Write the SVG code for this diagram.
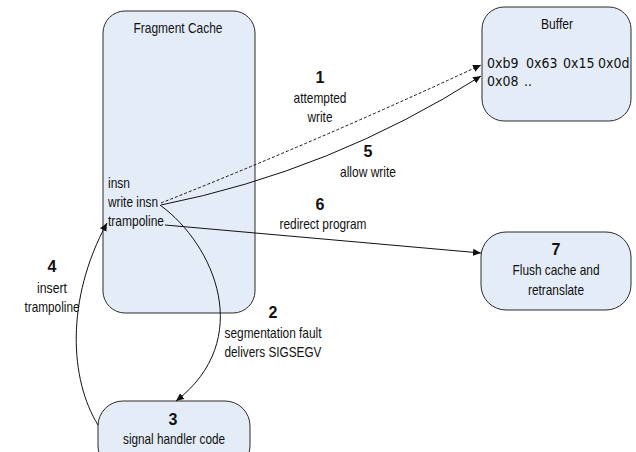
<svg xmlns="http://www.w3.org/2000/svg" width="636" height="452" viewBox="0 0 636 452">
<style>
.box{fill:#e4ecf7;stroke:#2b2b2b;stroke-width:1}
text{font-family:"Liberation Sans Narrow","Arial Narrow","Liberation Sans",Arial,sans-serif;font-size:15px;fill:#111}
.c{text-anchor:middle}
.n{font-weight:bold;font-size:16px}
.hex{font-family:"DejaVu Sans","Liberation Sans",sans-serif;font-size:14px;font-stretch:condensed}
.ln{fill:none;stroke:#111;stroke-width:1}
.dash{stroke-dasharray:3,2}
</style>
<defs>
<marker id="ah" viewBox="0 0 10 10" refX="10" refY="5" markerWidth="8" markerHeight="8" markerUnits="userSpaceOnUse" orient="auto">
<path d="M0,0.5 L10,5 L0,9.5 Z" fill="#111"/>
</marker>
</defs>
<g id="fragment-cache">
<rect class="box" x="103" y="11" width="152" height="302" rx="22" ry="22"/>
<text class="c" x="178" y="33" textLength="89" lengthAdjust="spacingAndGlyphs">Fragment Cache</text>
<text x="108" y="188" textLength="22" lengthAdjust="spacingAndGlyphs">insn</text>
<text x="108" y="207" textLength="50" lengthAdjust="spacingAndGlyphs">write insn</text>
<text x="108" y="226" textLength="56" lengthAdjust="spacingAndGlyphs">trampoline</text>
</g>
<g id="buffer">
<rect class="box" x="482" y="7" width="149" height="114" rx="22" ry="22"/>
<text class="c" x="557" y="29" textLength="32" lengthAdjust="spacingAndGlyphs">Buffer</text>
<text class="hex" y="68"><tspan x="487">0xb9</tspan><tspan x="526">0x63</tspan><tspan x="563">0x15</tspan><tspan x="598">0x0d</tspan></text>
<text class="hex" y="86"><tspan x="487">0x08</tspan><tspan x="524">..</tspan></text>
</g>
<g id="flush">
<rect class="box" x="481" y="232" width="150" height="78" rx="25" ry="25"/>
<text class="c n" x="556" y="255">7</text>
<text class="c" x="556" y="275" textLength="87" lengthAdjust="spacingAndGlyphs">Flush cache and</text>
<text class="c" x="556" y="295" textLength="56" lengthAdjust="spacingAndGlyphs">retranslate</text>
</g>
<g id="signal-handler">
<rect class="box" x="98" y="401" width="152" height="70" rx="25" ry="25"/>
<text class="c n" x="173" y="425">3</text>
<text class="c" x="174" y="444" textLength="102" lengthAdjust="spacingAndGlyphs">signal handler code</text>
</g>
<g id="connectors">
<path class="ln dash" d="M161,203 Q320,140 481,65" marker-end="url(#ah)"/>
<path class="ln" d="M161,205 Q332,171 481,76" marker-end="url(#ah)"/>
<path class="ln" d="M160,205 C215,245 255,340 176,401" marker-end="url(#ah)"/>
<path class="ln" d="M98,425 C70,380 65,300 107,223" marker-end="url(#ah)"/>
<path class="ln" d="M165,225 L481,253" marker-end="url(#ah)"/>
</g>
<g id="labels">
<text class="c n" x="320" y="83">1</text>
<text class="c" x="320" y="103" textLength="53" lengthAdjust="spacingAndGlyphs">attempted</text>
<text class="c" x="320" y="122" textLength="25" lengthAdjust="spacingAndGlyphs">write</text>
<text class="c n" x="273" y="318">2</text>
<text class="c" x="273" y="338" textLength="97" lengthAdjust="spacingAndGlyphs">segmentation fault</text>
<text class="c" x="273" y="357" textLength="97" lengthAdjust="spacingAndGlyphs">delivers SIGSEGV</text>
<text class="c n" x="52" y="272">4</text>
<text class="c" x="52" y="293" textLength="30" lengthAdjust="spacingAndGlyphs">insert</text>
<text class="c" x="52" y="312" textLength="55" lengthAdjust="spacingAndGlyphs">trampoline</text>
<text class="c n" x="368" y="157">5</text>
<text class="c" x="368" y="177" textLength="56" lengthAdjust="spacingAndGlyphs">allow write</text>
<text class="c n" x="320" y="210">6</text>
<text class="c" x="323" y="229" textLength="87" lengthAdjust="spacingAndGlyphs">redirect program</text>
</g>
</svg>
